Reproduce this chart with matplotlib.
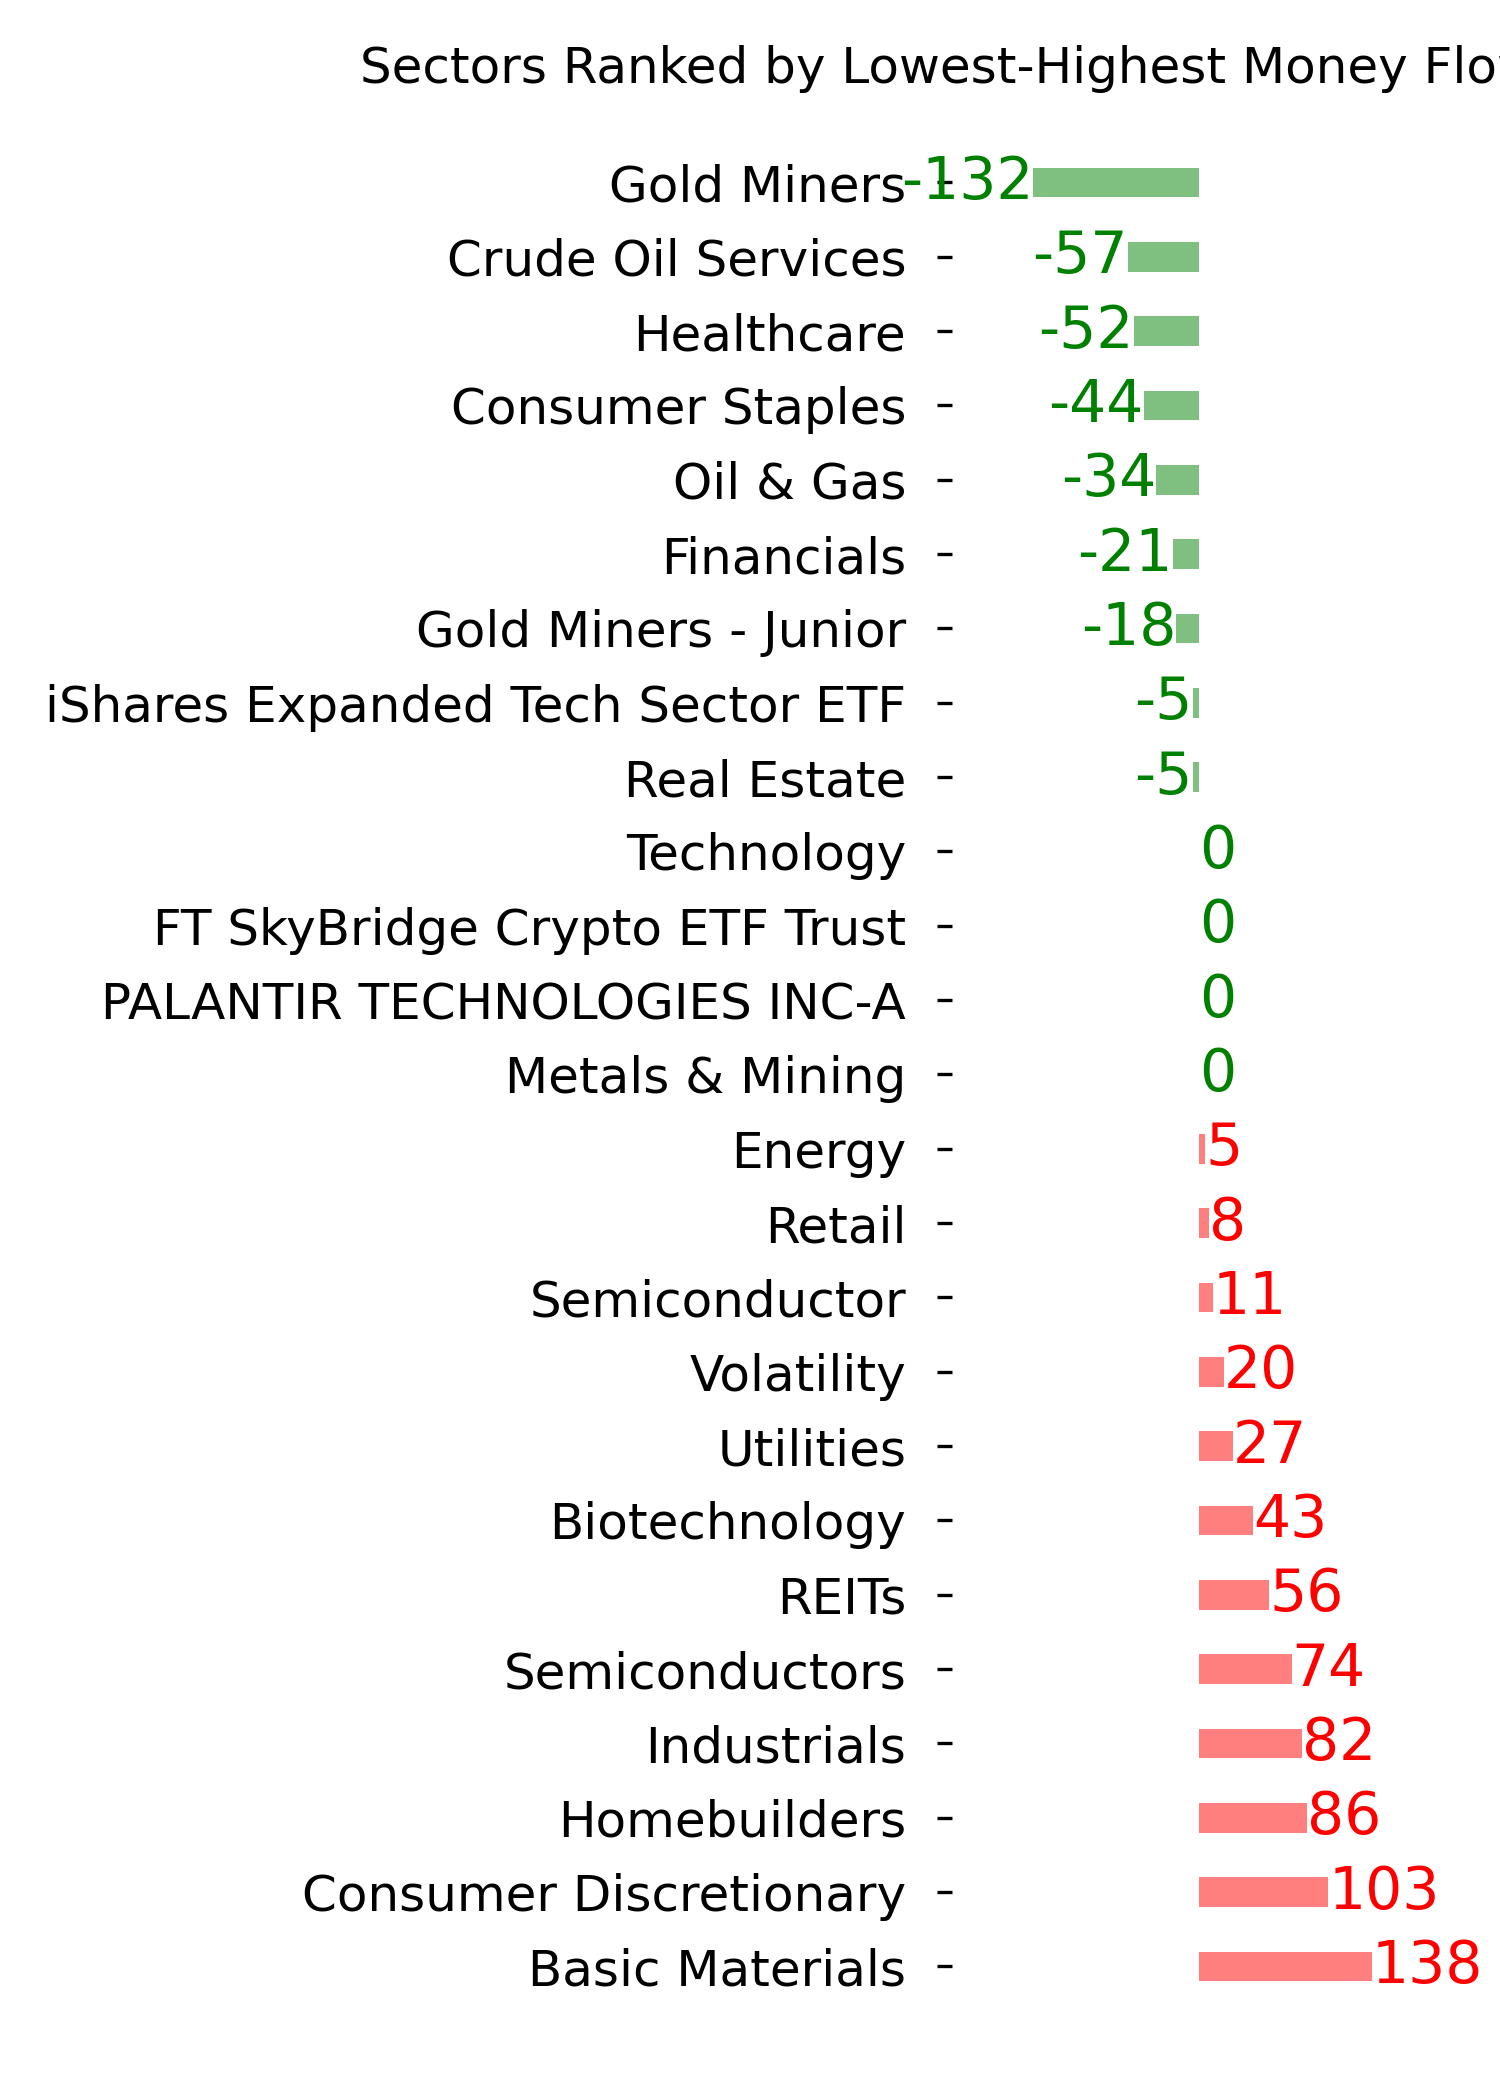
import matplotlib
matplotlib.use("Agg")
import matplotlib.pyplot as plt

sectors = [
    "Gold Miners", "Crude Oil Services", "Healthcare", "Consumer Staples",
    "Oil & Gas", "Financials", "Gold Miners - Junior",
    "iShares Expanded Tech Sector ETF", "Real Estate", "Technology",
    "FT SkyBridge Crypto ETF Trust", "PALANTIR TECHNOLOGIES INC-A",
    "Metals & Mining", "Energy", "Retail", "Semiconductor", "Volatility",
    "Utilities", "Biotechnology", "REITs", "Semiconductors", "Industrials",
    "Homebuilders", "Consumer Discretionary", "Basic Materials",
]
flows = [-132, -57, -52, -44, -34, -21, -18, -5, -5, 0, 0, 0, 0,
         5, 8, 11, 20, 27, 43, 56, 74, 82, 86, 103, 138]

title = "Sectors Ranked by Lowest-Highest Money Flow"

colors = ["green" if v <= 0 else "red" for v in flows]
rows = list(range(len(sectors)))

fig = plt.figure(figsize=(5, 7), dpi=300)
ax = fig.add_axes([0.63467, 0.01331, 0.3318, 0.95005])

ax.barh(rows, flows, height=0.4, color=colors, alpha=0.5)

for y, v, c in zip(rows, flows, colors):
    ha = "right" if v < 0 else "left"
    ax.text(v, y, str(v), color=c, fontsize=14, ha=ha, va="center")

ax.set_yticks(rows)
ax.set_yticklabels(sectors, fontsize=12)
ax.tick_params(axis="y", pad=7.5)
ax.set_xticks([])
ax.set_xlim(-197, 200)
ax.set_ylim(len(sectors) - 1 + 1.42, -1.42)
for s in ax.spines.values():
    s.set_visible(False)

fig.text(0.24, 1 - 83 / 2100, title, fontsize=12, ha="left", va="baseline")

fig.savefig("out.png", dpi=300)
